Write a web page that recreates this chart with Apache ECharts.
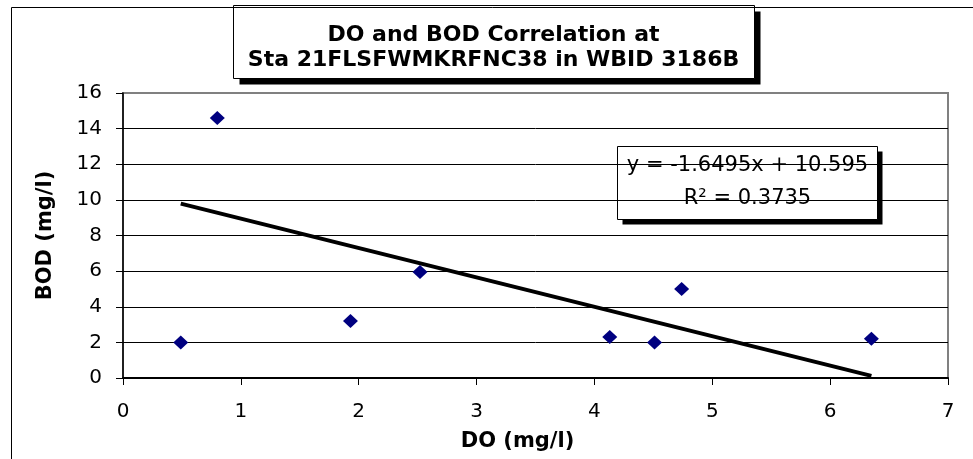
<!DOCTYPE html>
<html>
<head>
<meta charset="utf-8">
<script src="https://cdn.jsdelivr.net/npm/echarts@6/dist/echarts.min.js"></script>
<style>
  html, body { margin: 0; padding: 0; background: #fff; }
  #chart { width: 973px; height: 459px; }
</style>
</head>
<body>
<div id="chart"></div>
<script>
// data
var doValues  = [0.49, 0.80, 1.93, 2.52, 4.13, 4.51, 4.74, 6.35];
var bodValues = [2.0, 14.6, 3.2, 5.95, 2.3, 2.0, 5.0, 2.2];
// trend line ends (linear fit, drawn over the DO range)
var trendDo  = [0.49, 6.35];
var trendBod = [9.79, 0.12];

var titleLines = ['DO and BOD Correlation at', 'Sta 21FLSFWMKRFNC38 in WBID 3186B'];
var equationLines = ['y = -1.6495x + 10.595', 'R\u00b2 = 0.3735'];
var xName = 'DO (mg/l)';
var yName = 'BOD (mg/l)';

var FONT = 'DejaVu Sans';

var points = doValues.map(function (x, i) { return [x, bodValues[i]]; });
var trend = trendDo.map(function (x, i) { return [x, trendBod[i]]; });

// gridlines black, the top one (16) stays grey like the plot border
var splitColors = ['#000', '#000', '#000', '#000', '#000', '#000', '#000', '#000', '#808080'];

var chart = echarts.init(document.getElementById('chart'));

chart.setOption({
  animation: false,
  backgroundColor: '#fff',
  grid: {
    left: 123, right: 25, top: 93, bottom: 81,
    show: true, borderColor: '#808080', borderWidth: 2, backgroundColor: '#fff'
  },
  xAxis: {
    type: 'value', min: 0, max: 7, interval: 1,
    name: xName, nameLocation: 'middle', nameGap: 53,
    nameTextStyle: { fontFamily: FONT, fontWeight: 'bold', fontSize: 21, color: '#000', padding: [0, 36, 0, 0] },
    axisLine: { show: true, onZero: false, lineStyle: { color: '#000', width: 2 } },
    axisTick: { show: true, inside: false, length: 7, lineStyle: { color: '#000', width: 1 } },
    axisLabel: { fontFamily: FONT, fontSize: 20, color: '#000', margin: 24 },
    splitLine: { show: false }
  },
  yAxis: {
    type: 'value', min: 0, max: 16, interval: 2,
    name: yName, nameLocation: 'middle', nameGap: 67,
    nameTextStyle: { fontFamily: FONT, fontWeight: 'bold', fontSize: 21, color: '#000' },
    axisLine: { show: true, onZero: false, lineStyle: { color: '#000', width: 1.5 } },
    axisTick: { show: true, inside: false, length: 7, lineStyle: { color: '#000', width: 1 } },
    axisLabel: { fontFamily: FONT, fontSize: 20, color: '#000', margin: 21 },
    splitLine: { show: true, lineStyle: { color: splitColors, width: 1 } }
  },
  series: [
    {
      type: 'line',
      data: trend,
      symbol: 'none',
      lineStyle: { color: '#000', width: 4 },
      z: 2
    },
    {
      type: 'scatter',
      data: points,
      symbol: 'diamond',
      symbolSize: [15, 14],
      itemStyle: { color: '#000080', opacity: 1 },
      z: 3
    }
  ],
  graphic: [
    // outer chart-area border (right and bottom fall outside the picture)
    {
      type: 'rect', left: 9, top: 5, z: 1, silent: true,
      shape: { width: 1000, height: 500 },
      style: { fill: null, stroke: '#000', lineWidth: 1 }
    },
    // title box
    {
      type: 'group', left: 233, top: 5, z: 10,
      children: [
        { type: 'rect', shape: { x: 6, y: 6, width: 521, height: 73 }, style: { fill: '#000' } },
        { type: 'rect', shape: { x: 0, y: 0, width: 521, height: 73 }, style: { fill: '#fff', stroke: '#000', lineWidth: 1 } },
        { type: 'text', x: 260, y: 30, style: { text: titleLines[0], font: 'bold 22px "' + FONT + '"', fill: '#000', align: 'center', verticalAlign: 'middle' } },
        { type: 'text', x: 260, y: 55, style: { text: titleLines[1], font: 'bold 22px "' + FONT + '"', fill: '#000', align: 'center', verticalAlign: 'middle' } }
      ]
    },
    // trend line equation box
    {
      type: 'group', left: 617, top: 146, z: 10,
      children: [
        { type: 'rect', shape: { x: 5, y: 5, width: 260, height: 73 }, style: { fill: '#000' } },
        { type: 'rect', shape: { x: 0, y: 0, width: 260, height: 73 }, style: { fill: '#fff', stroke: '#000', lineWidth: 1 } },
        { type: 'text', x: 130, y: 19, style: { text: equationLines[0], font: '21px "' + FONT + '"', fill: '#000', align: 'center', verticalAlign: 'middle' } },
        { type: 'text', x: 130, y: 52, style: { text: equationLines[1], font: '21px "' + FONT + '"', fill: '#000', align: 'center', verticalAlign: 'middle' } }
      ]
    }
  ]
});
</script>
</body>
</html>
